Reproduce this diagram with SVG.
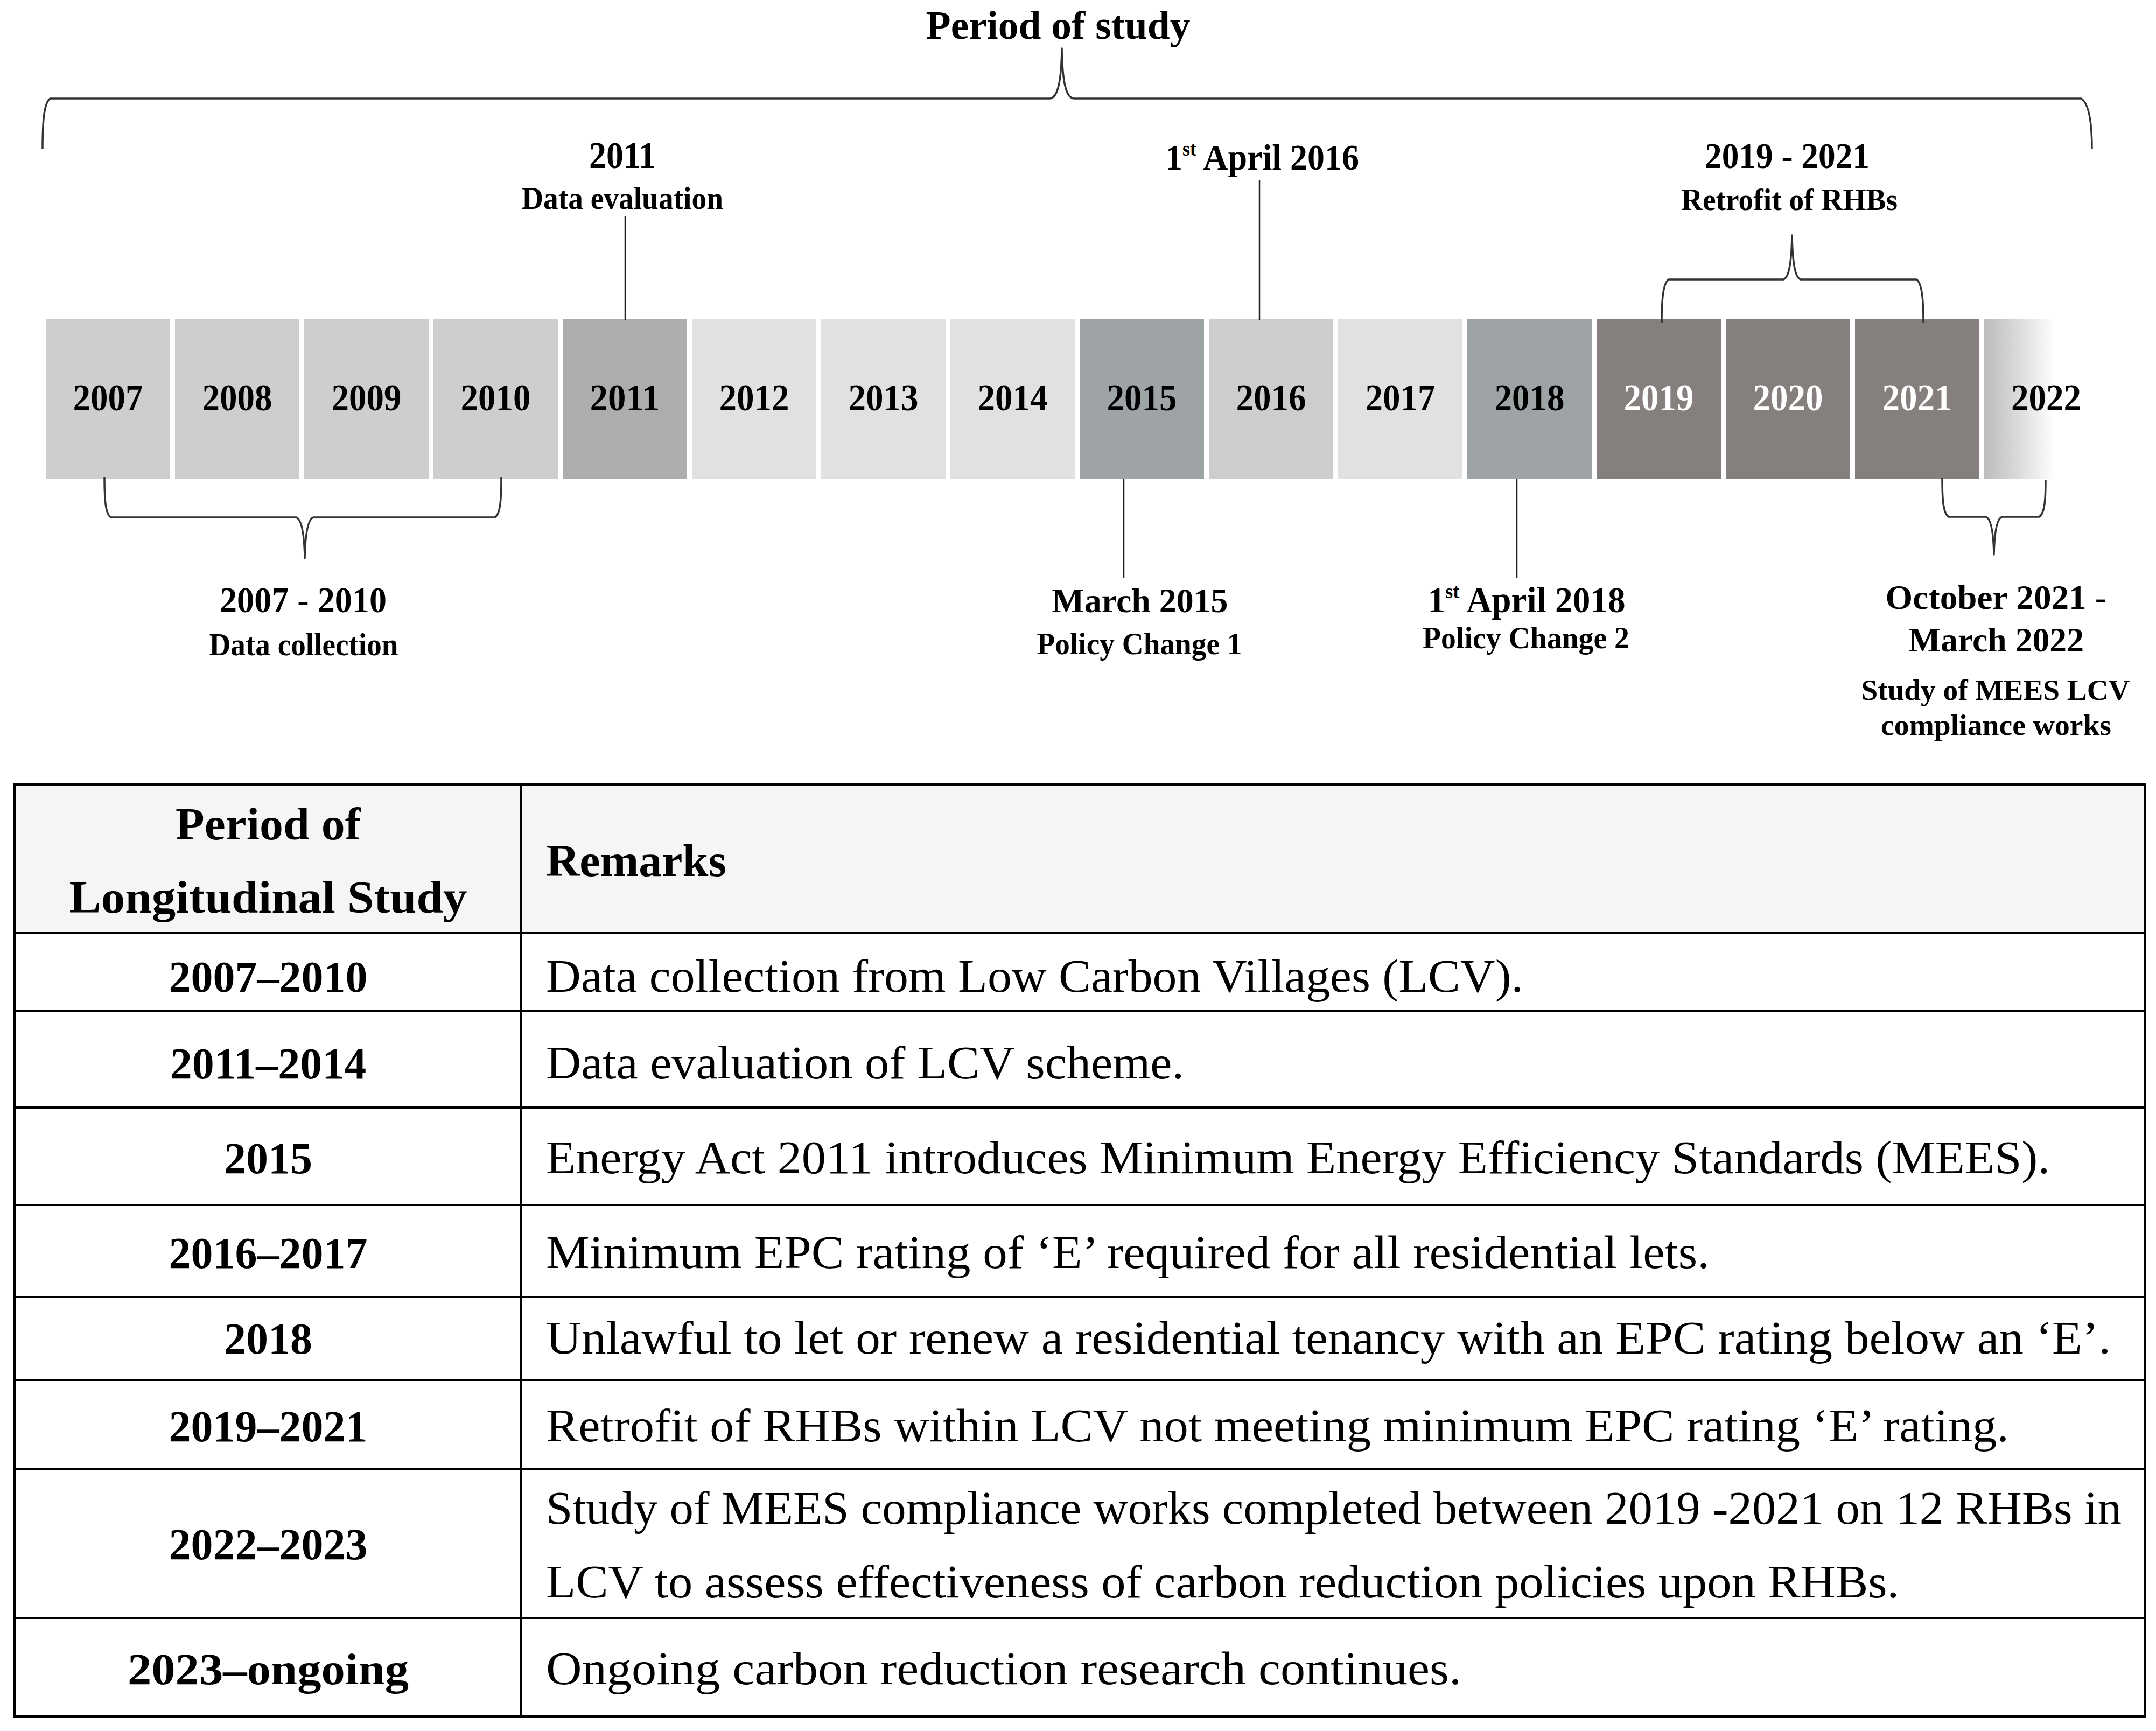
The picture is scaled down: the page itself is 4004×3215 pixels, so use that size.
<svg xmlns="http://www.w3.org/2000/svg" width="4004" height="3215" viewBox="0 0 4004 3215">
<style>
text{font-family:"Liberation Serif","Times New Roman",serif;fill:#000}
.tb{font-weight:bold;text-anchor:middle}
.yr{font-weight:bold;text-anchor:middle;font-size:70px}
.yw{fill:#fff}
.conn{fill:none;stroke:#222;stroke-width:2.5}
.brace{fill:none;stroke:#333;stroke-width:3.5;stroke-linejoin:round}
.grid{stroke:#000;stroke-width:4;fill:none}
.hd{font-weight:bold;font-size:84px}
.lc{font-weight:bold;font-size:82px;text-anchor:middle}
.bd{font-size:86px}
</style>
<defs>
<linearGradient id="fade" gradientUnits="userSpaceOnUse" x1="3686" y1="0" x2="3816" y2="0">
<stop offset="0" stop-color="#bcbcbc"/>
<stop offset="0.45" stop-color="#d9d9d9"/>
<stop offset="1" stop-color="#ffffff"/>
</linearGradient>
</defs>
<rect width="4004" height="3215" fill="#fff"/>

<g id="title">
<text class="tb" x="1965" y="72" font-size="75" textLength="491" lengthAdjust="spacingAndGlyphs">Period of study</text>
</g>

<g id="timeline">
<g id="y2007"><rect x="85" y="593" width="231" height="296" fill="#cecece"/><text class="yr" x="200.5" y="762" textLength="130" lengthAdjust="spacingAndGlyphs">2007</text></g>
<g id="y2008"><rect x="325" y="593" width="231" height="296" fill="#cecece"/><text class="yr" x="440.5" y="762" textLength="130" lengthAdjust="spacingAndGlyphs">2008</text></g>
<g id="y2009"><rect x="565" y="593" width="231" height="296" fill="#cecece"/><text class="yr" x="680.5" y="762" textLength="130" lengthAdjust="spacingAndGlyphs">2009</text></g>
<g id="y2010"><rect x="805" y="593" width="231" height="296" fill="#cecece"/><text class="yr" x="920.5" y="762" textLength="130" lengthAdjust="spacingAndGlyphs">2010</text></g>
<g id="y2011"><rect x="1045" y="593" width="231" height="296" fill="#adadad"/><text class="yr" x="1160.5" y="762" textLength="130" lengthAdjust="spacingAndGlyphs">2011</text></g>
<g id="y2012"><rect x="1285" y="593" width="231" height="296" fill="#e1e1e1"/><text class="yr" x="1400.5" y="762" textLength="130" lengthAdjust="spacingAndGlyphs">2012</text></g>
<g id="y2013"><rect x="1525" y="593" width="231" height="296" fill="#e1e1e1"/><text class="yr" x="1640.5" y="762" textLength="130" lengthAdjust="spacingAndGlyphs">2013</text></g>
<g id="y2014"><rect x="1765" y="593" width="231" height="296" fill="#e1e1e1"/><text class="yr" x="1880.5" y="762" textLength="130" lengthAdjust="spacingAndGlyphs">2014</text></g>
<g id="y2015"><rect x="2005" y="593" width="231" height="296" fill="#9ea3a6"/><text class="yr" x="2120.5" y="762" textLength="130" lengthAdjust="spacingAndGlyphs">2015</text></g>
<g id="y2016"><rect x="2245" y="593" width="231" height="296" fill="#cdcdcd"/><text class="yr" x="2360.5" y="762" textLength="130" lengthAdjust="spacingAndGlyphs">2016</text></g>
<g id="y2017"><rect x="2485" y="593" width="231" height="296" fill="#e1e1e1"/><text class="yr" x="2600.5" y="762" textLength="130" lengthAdjust="spacingAndGlyphs">2017</text></g>
<g id="y2018"><rect x="2725" y="593" width="231" height="296" fill="#9ea3a6"/><text class="yr" x="2840.5" y="762" textLength="130" lengthAdjust="spacingAndGlyphs">2018</text></g>
<g id="y2019"><rect x="2965" y="593" width="231" height="296" fill="#857f7d"/><text class="yr yw" x="3080.5" y="762" textLength="130" lengthAdjust="spacingAndGlyphs">2019</text></g>
<g id="y2020"><rect x="3205" y="593" width="231" height="296" fill="#857f7d"/><text class="yr yw" x="3320.5" y="762" textLength="130" lengthAdjust="spacingAndGlyphs">2020</text></g>
<g id="y2021"><rect x="3445" y="593" width="231" height="296" fill="#857f7d"/><text class="yr yw" x="3560.5" y="762" textLength="130" lengthAdjust="spacingAndGlyphs">2021</text></g>
<g id="y2022"><rect x="3685" y="593" width="140" height="296" fill="url(#fade)"/><text class="yr" x="3800" y="762" textLength="130" lengthAdjust="spacingAndGlyphs">2022</text></g>
</g>

<g id="connectors">
<path class="brace" d="M79,277 C79,230 81,192 93,183 L1950,183 C1965,181 1971,150 1972,90 C1973,150 1979,181 1994,183 L3865,183 C3880,192 3885,230 3885,277"/>
<path class="brace" d="M3086,600 C3086,560 3088,526 3099,519 L3312,519 C3322,516 3327,490 3328,437 C3329,490 3334,516 3344,519 L3559,519 C3570,526 3572,560 3572,600"/>
<path class="brace" d="M194,886 C194,930 196,955 206,961 L550,961 C560,964 565,990 566,1037 C567,990 572,964 582,961 L919,961 C929,955 931,930 931,886"/>
<path class="brace" d="M3607,888 C3607,930 3609,954 3619,960 L3688,960 C3697,963 3702,985 3703,1030 C3704,985 3709,963 3718,960 L3787,960 C3797,954 3799,930 3799,891"/>
<line class="conn" x1="1161" y1="402" x2="1161" y2="595"/>
<line class="conn" x1="2339" y1="335" x2="2339" y2="595"/>
<line class="conn" x1="2087" y1="889" x2="2087" y2="1074"/>
<line class="conn" x1="2817" y1="889" x2="2817" y2="1074"/>
</g>

<g id="label-2011">
<text class="tb" x="1156" y="312" font-size="70" textLength="124" lengthAdjust="spacingAndGlyphs">2011</text>
<text class="tb" x="1156" y="388" font-size="59" textLength="374" lengthAdjust="spacingAndGlyphs">Data evaluation</text>
</g>
<g id="label-2016">
<text class="tb" x="2344" y="315" font-size="68" textLength="360" lengthAdjust="spacingAndGlyphs">1<tspan font-size="38" dy="-26">st</tspan><tspan dy="26"> April 2016</tspan></text>
</g>
<g id="label-2019-2021">
<text class="tb" x="3319" y="312" font-size="67" textLength="306" lengthAdjust="spacingAndGlyphs">2019 - 2021</text>
<text class="tb" x="3323" y="390" font-size="57" textLength="402" lengthAdjust="spacingAndGlyphs">Retrofit of RHBs</text>
</g>
<g id="label-2007-2010">
<text class="tb" x="563" y="1137" font-size="68" textLength="310" lengthAdjust="spacingAndGlyphs">2007 - 2010</text>
<text class="tb" x="564" y="1217" font-size="60" textLength="351" lengthAdjust="spacingAndGlyphs">Data collection</text>
</g>
<g id="label-2015">
<text class="tb" x="2117" y="1137" font-size="64" textLength="327" lengthAdjust="spacingAndGlyphs">March 2015</text>
<text class="tb" x="2116" y="1215" font-size="58" textLength="381" lengthAdjust="spacingAndGlyphs">Policy Change 1</text>
</g>
<g id="label-2018">
<text class="tb" x="2835" y="1137" font-size="68" textLength="367" lengthAdjust="spacingAndGlyphs">1<tspan font-size="38" dy="-26">st</tspan><tspan dy="26"> April 2018</tspan></text>
<text class="tb" x="2834" y="1204" font-size="58" textLength="384" lengthAdjust="spacingAndGlyphs">Policy Change 2</text>
</g>
<g id="label-2021-2022">
<text class="tb" x="3707" y="1131" font-size="64" textLength="411" lengthAdjust="spacingAndGlyphs">October 2021 -</text>
<text class="tb" x="3707" y="1210" font-size="64" textLength="326" lengthAdjust="spacingAndGlyphs">March 2022</text>
<text class="tb" x="3706" y="1300" font-size="55" textLength="499" lengthAdjust="spacingAndGlyphs">Study of MEES LCV</text>
<text class="tb" x="3707" y="1365" font-size="55" textLength="428" lengthAdjust="spacingAndGlyphs">compliance works</text>
</g>

<g id="table">
<rect x="27" y="1457" width="3956" height="276" fill="#f5f5f5"/>
<g class="grid">
<rect x="27" y="1457" width="3956" height="1731"/>
<line x1="968" y1="1457" x2="968" y2="3188"/>
<line x1="27" y1="1733" x2="3983" y2="1733"/>
<line x1="27" y1="1878" x2="3983" y2="1878"/>
<line x1="27" y1="2057" x2="3983" y2="2057"/>
<line x1="27" y1="2238" x2="3983" y2="2238"/>
<line x1="27" y1="2409" x2="3983" y2="2409"/>
<line x1="27" y1="2563" x2="3983" y2="2563"/>
<line x1="27" y1="2728" x2="3983" y2="2728"/>
<line x1="27" y1="3005" x2="3983" y2="3005"/>
</g>
<g id="header">
<text class="hd" x="498" y="1559" text-anchor="middle" textLength="344" lengthAdjust="spacingAndGlyphs">Period of</text>
<text class="hd" x="498" y="1695" text-anchor="middle" textLength="739" lengthAdjust="spacingAndGlyphs">Longitudinal Study</text>
<text class="hd" x="1014" y="1627" textLength="335" lengthAdjust="spacingAndGlyphs">Remarks</text>
</g>
<g id="row1"><text class="lc" x="498" y="1842">2007–2010</text><text class="bd" x="1014" y="1842" textLength="1815" lengthAdjust="spacingAndGlyphs">Data collection from Low Carbon Villages (LCV).</text></g>
<g id="row2"><text class="lc" x="498" y="2003">2011–2014</text><text class="bd" x="1014" y="2003" textLength="1185" lengthAdjust="spacingAndGlyphs">Data evaluation of LCV scheme.</text></g>
<g id="row3"><text class="lc" x="498" y="2179">2015</text><text class="bd" x="1014" y="2179" textLength="2793" lengthAdjust="spacingAndGlyphs">Energy Act 2011 introduces Minimum Energy Efficiency Standards (MEES).</text></g>
<g id="row4"><text class="lc" x="498" y="2355">2016–2017</text><text class="bd" x="1014" y="2355" textLength="2161" lengthAdjust="spacingAndGlyphs">Minimum EPC rating of ‘E’ required for all residential lets.</text></g>
<g id="row5"><text class="lc" x="498" y="2514">2018</text><text class="bd" x="1014" y="2514" textLength="2906" lengthAdjust="spacingAndGlyphs">Unlawful to let or renew a residential tenancy with an EPC rating below an ‘E’.</text></g>
<g id="row6"><text class="lc" x="498" y="2677">2019–2021</text><text class="bd" x="1014" y="2677" textLength="2717" lengthAdjust="spacingAndGlyphs">Retrofit of RHBs within LCV not meeting minimum EPC rating ‘E’ rating.</text></g>
<g id="row7"><text class="lc" x="498" y="2896">2022–2023</text><text class="bd" x="1014" y="2830" textLength="2926" lengthAdjust="spacingAndGlyphs">Study of MEES compliance works completed between 2019 -2021 on 12 RHBs in</text><text class="bd" x="1014" y="2967" textLength="2513" lengthAdjust="spacingAndGlyphs">LCV to assess effectiveness of carbon reduction policies upon RHBs.</text></g>
<g id="row8"><text class="lc" x="498" y="3128" textLength="522" lengthAdjust="spacingAndGlyphs">2023–ongoing</text><text class="bd" x="1014" y="3128" textLength="1700" lengthAdjust="spacingAndGlyphs">Ongoing carbon reduction research continues.</text></g>
</g>
</svg>
